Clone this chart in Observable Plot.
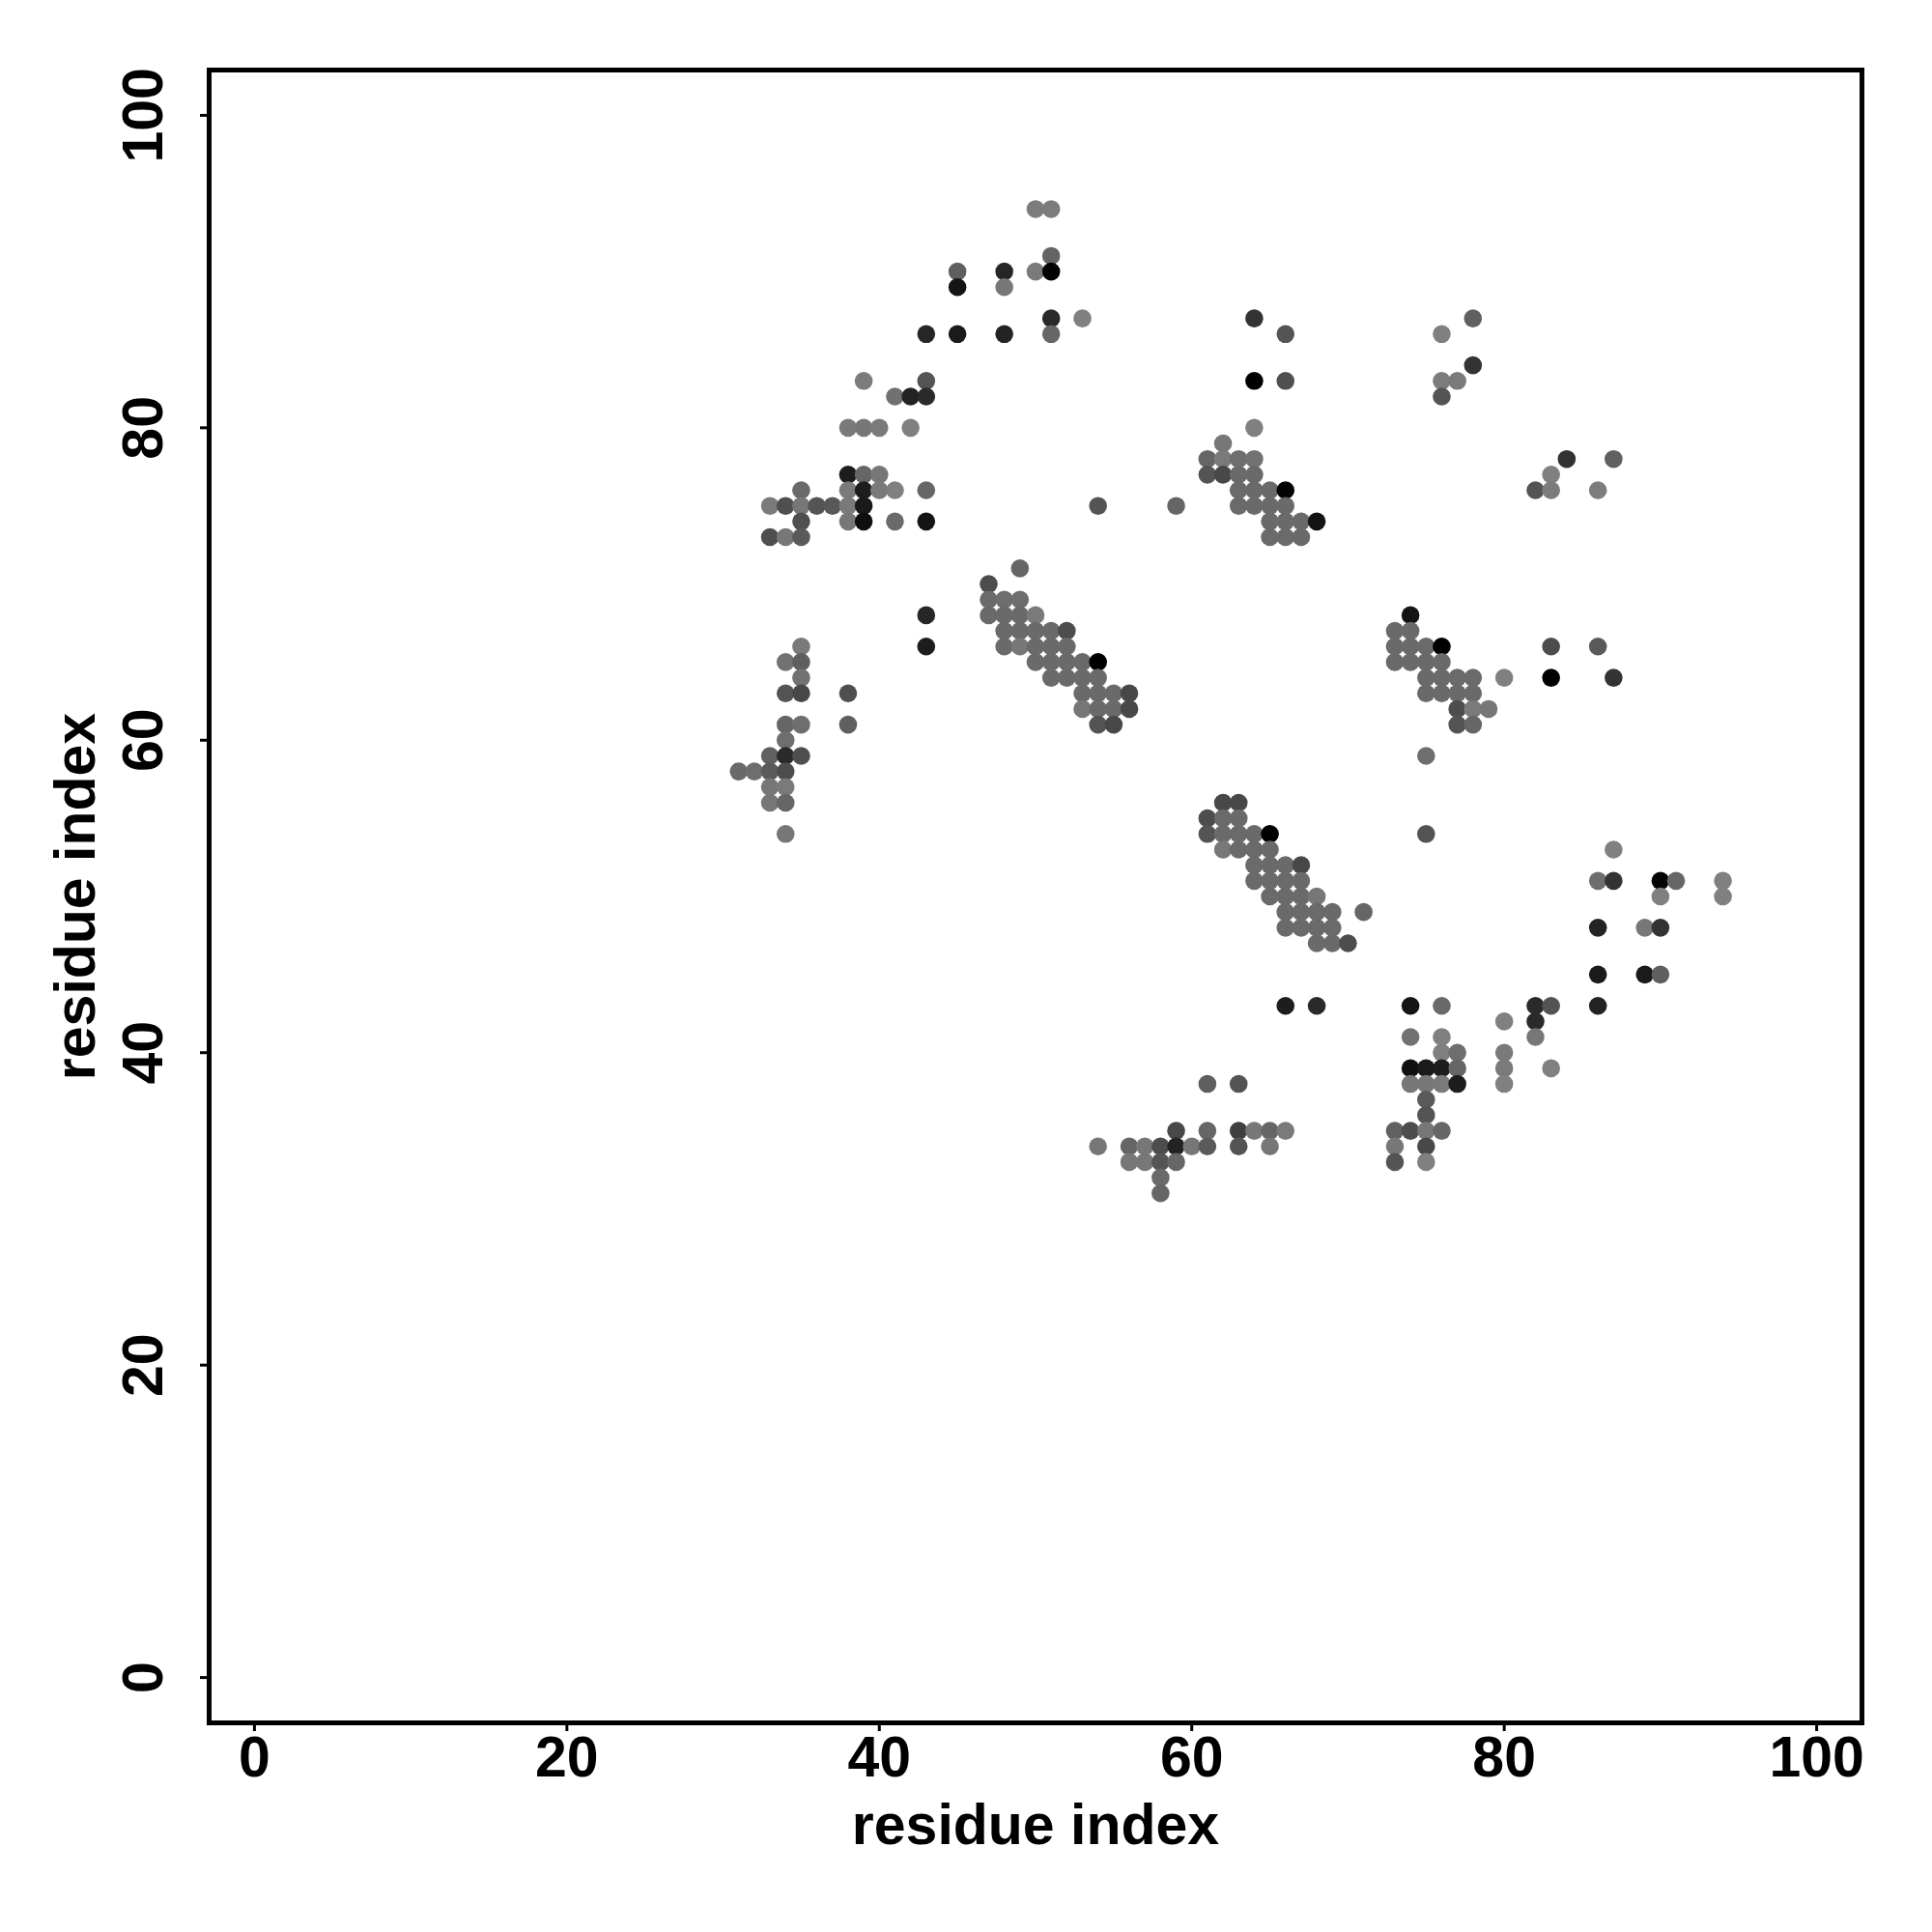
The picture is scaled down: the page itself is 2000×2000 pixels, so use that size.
<!DOCTYPE html>
<html>
<head>
<meta charset="utf-8">
<script src="https://cdn.jsdelivr.net/npm/d3@7"></script>
<script src="https://cdn.jsdelivr.net/npm/@observablehq/plot@0.6"></script>
<style>
  html, body { margin: 0; padding: 0; background: #fff; }
  #chart { width: 2000px; height: 2000px; }
</style>
</head>
<body>
<div id="chart"></div>
<script>
// residue i (x), residue j (y), contact probability p (0 = light gray, 1 = black)
const resI = [
  50,51,51,45,48,50,51,45,48,51,43,45,48,51,53,39,43,41,42,43,38,39,40,42,38,39,40,
  35,38,39,40,41,43,33,34,35,36,37,38,39,35,38,39,41,43,33,34,35,
  35,34,35,35,34,35,38,34,35,38,34,33,34,35,31,32,33,34,33,34,33,34,34,43,43,
  49,47,47,48,49,47,48,49,50,48,49,50,51,52,48,49,50,51,52,50,51,52,53,54,51,52,53,54,
  53,54,55,56,53,54,55,56,54,55,
  54,59,64,66,64,66,64,62,61,62,63,64,61,62,63,64,63,64,65,66,63,64,65,66,65,66,67,68,65,66,67,
  78,76,78,76,77,76,84,87,83,82,83,86,
  74,73,74,73,74,75,76,73,74,75,76,75,76,77,78,80,75,76,77,78,77,78,79,77,78,75,75,87,83,86,83,87,
  62,63,61,62,63,61,62,63,64,65,62,63,64,65,64,65,66,67,64,65,66,67,65,66,67,68,66,67,68,69,71,66,67,68,69,68,69,70,66,68,
  61,63,59,61,63,64,65,66,54,56,57,58,59,60,61,63,65,56,57,58,59,58,58,
  86,87,90,91,94,90,94,86,89,90,86,89,90,74,76,82,83,86,80,82,74,76,82,76,77,80,
  74,75,76,77,80,83,74,75,76,77,80,75,75,73,74,75,76,73,75,73,75
];
const resJ = [
  94,94,91,90,90,90,90,89,89,87,86,86,86,86,87,83,83,82,82,82,80,80,80,80,77,77,77,
  76,76,76,76,76,76,75,75,75,75,75,75,75,74,74,74,74,74,73,73,73,
  66,65,65,64,63,63,63,61,61,61,60,59,59,59,58,58,58,58,57,57,56,56,54,68,66,
  71,70,69,69,69,68,68,68,68,67,67,67,67,67,66,66,66,66,66,65,65,65,65,65,64,64,64,64,
  63,63,63,63,62,62,62,62,61,61,
  75,75,87,86,83,83,80,79,78,78,78,78,77,77,77,77,76,76,76,76,75,75,75,75,74,74,74,74,73,73,73,
  87,86,84,83,83,82,78,78,77,76,76,76,
  68,67,67,66,66,66,66,65,65,65,65,64,64,64,64,64,63,63,63,63,62,62,62,61,61,59,54,53,66,66,64,64,
  56,56,55,55,55,54,54,54,54,54,53,53,53,53,52,52,52,52,51,51,51,51,50,50,50,50,49,49,49,49,49,48,48,48,48,47,47,47,43,43,
  38,38,35,35,35,35,35,35,34,34,34,34,34,34,34,34,34,33,33,33,33,32,31,
  51,51,51,51,51,50,50,48,48,48,45,45,45,43,43,43,43,43,42,42,41,41,41,40,40,40,
  39,39,39,39,39,39,38,38,38,38,38,37,36,35,35,35,35,34,34,33,33
];
const prob = [
  0.03,0.03,0.22,0.26,0.70,0.05,0.98,0.84,0.07,0.67,0.70,0.80,0.73,0.20,0.00,0.03,0.34,0.12,0.73,0.67,0.05,0.08,0.05,0.00,0.77,0.20,0.07,
  0.17,0.05,0.77,0.05,0.00,0.20,0.05,0.38,0.07,0.34,0.31,0.05,0.80,0.38,0.07,0.88,0.17,0.84,0.38,0.07,0.30,
  0.05,0.11,0.26,0.11,0.34,0.44,0.38,0.20,0.14,0.26,0.14,0.25,0.67,0.38,0.17,0.14,0.30,0.40,0.07,0.05,0.07,0.20,0.07,0.70,0.77,
  0.20,0.40,0.17,0.14,0.14,0.17,0.17,0.17,0.05,0.17,0.17,0.17,0.17,0.40,0.17,0.07,0.17,0.17,0.17,0.17,0.17,0.17,0.17,1.00,0.17,0.17,0.17,0.17,
  0.17,0.17,0.17,0.44,0.07,0.17,0.17,0.44,0.34,0.44,
  0.34,0.20,0.60,0.34,1.00,0.38,0.00,0.07,0.20,0.05,0.14,0.11,0.34,0.44,0.17,0.17,0.17,0.17,0.17,0.98,0.17,0.17,0.17,0.17,0.17,0.17,0.17,0.84,0.17,0.17,0.17,
  0.25,0.00,0.60,0.03,0.05,0.34,0.60,0.25,0.00,0.34,0.03,0.03,
  0.84,0.17,0.17,0.17,0.17,0.17,1.00,0.17,0.17,0.17,0.17,0.17,0.17,0.17,0.17,0.00,0.17,0.17,0.17,0.17,0.40,0.05,0.07,0.34,0.20,0.14,0.34,0.00,0.40,0.30,1.00,0.60,
  0.44,0.44,0.40,0.17,0.17,0.34,0.17,0.17,0.17,1.00,0.07,0.17,0.17,0.17,0.17,0.17,0.17,0.44,0.17,0.17,0.17,0.17,0.17,0.17,0.17,0.07,0.17,0.17,0.17,0.17,0.20,0.17,0.17,0.17,0.17,0.17,0.17,0.40,0.77,0.67,
  0.26,0.34,0.44,0.20,0.50,0.07,0.20,0.05,0.07,0.20,0.07,0.40,0.73,0.07,0.30,0.34,0.07,0.07,0.07,0.34,0.20,0.17,0.20,
  0.14,0.60,0.96,0.20,0.00,0.00,0.00,0.73,0.07,0.60,0.80,0.80,0.26,0.84,0.17,0.67,0.34,0.73,0.00,0.67,0.11,0.00,0.07,0.00,0.14,0.05,
  0.87,0.80,0.77,0.20,0.05,0.00,0.07,0.07,0.05,0.77,0.00,0.30,0.34,0.25,0.40,0.07,0.20,0.07,0.44,0.34,0.00
];
const xTicks = [0, 20, 40, 60, 80, 100];
const yTicks = [0, 20, 40, 60, 80, 100];
const axisTitle = "residue index";

const contacts = resI.map((d, k) => ({i: d, j: resJ[k], p: prob[k]}));

const font = "Liberation Sans, Arial, Helvetica, sans-serif";
const fs = 59;

const chart = Plot.plot({
  width: 2000,
  height: 2000,
  marginLeft: 216,
  marginRight: 73,
  marginTop: 72,
  marginBottom: 217,
  style: {fontFamily: font, fontWeight: "bold", background: "#fff", color: "#000"},
  x: {domain: [-2.9, 102.9]},
  y: {domain: [-2.9, 102.9]},
  color: {type: "linear", domain: [0, 1], range: ["#808080", "#000000"]},
  marks: [
    Plot.dot(contacts, {x: "i", y: "j", r: 9.3, fill: "p", stroke: "none"}),
    Plot.frame({stroke: "#000", strokeWidth: 5}),
    Plot.axisX({ticks: xTicks, tickSize: 9, tickPadding: 5, strokeWidth: 3, fontSize: fs, fontWeight: "bold", label: null, tickFormat: d => String(d)}),
    Plot.axisY({ticks: yTicks, tickSize: 9, strokeWidth: 3, label: null, tickFormat: () => ""}),
    Plot.text(yTicks, {y: d => d, text: d => String(d), frameAnchor: "left", dx: -67, rotate: -90, textAnchor: "middle", lineAnchor: "middle", fontSize: fs, fontWeight: "bold"}),
    Plot.text([axisTitle], {text: d => d, frameAnchor: "bottom", dy: 84, lineAnchor: "top", textAnchor: "middle", fontSize: fs, fontWeight: "bold"}),
    Plot.text([axisTitle], {text: d => d, frameAnchor: "left", dx: -137, rotate: -90, lineAnchor: "middle", textAnchor: "middle", fontSize: fs, fontWeight: "bold"})
  ]
});
document.getElementById("chart").appendChild(chart);
</script>
</body>
</html>
